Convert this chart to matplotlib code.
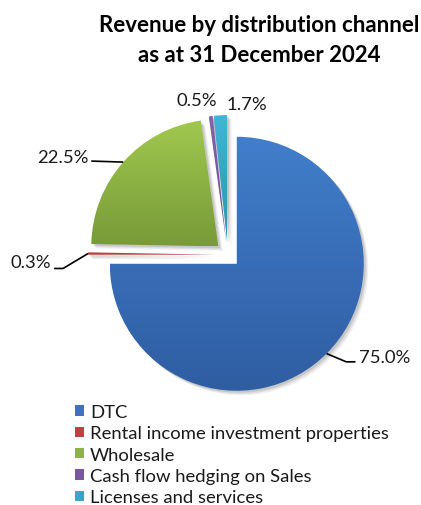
import numpy as np
import matplotlib
matplotlib.use("Agg")
import matplotlib.pyplot as plt
from matplotlib.patches import Patch
from matplotlib.colors import to_rgb

# Revenue shares by distribution channel (percent)
channels = ["DTC", "Rental income investment properties", "Wholesale",
            "Cash flow hedging on Sales", "Licenses and services"]
shares = [75.0, 0.3, 22.5, 0.5, 1.7]

# (top, bottom) gradient colours for each slice
top_colors = ["#417ECB", "#CC4A47", "#A0C84E", "#8663AE", "#40B6D6"]
bottom_colors = ["#2F5DA2", "#A83936", "#789A38", "#6A4C92", "#2F93B2"]
legend_colors = ["#3B73C0", "#C0423F", "#8DB346", "#7A57A3", "#38A6C8"]

title_lines = ["Revenue by distribution channel", "as at 31 December 2024"]
font = "Lato"

W, H, DPI = 421, 506, 100
fig = plt.figure(figsize=(W / DPI, H / DPI), dpi=DPI)

# pie axes: 1 data unit = 127 px, pie centre at (228, 256) px from top-left
R_PX = 127.0
cx, cy = 227.8, 255.8
half = 1.5
ax = fig.add_axes([(cx - half * R_PX) / W, (H - cy - half * R_PX) / H,
                   2 * half * R_PX / W, 2 * half * R_PX / H])

explode = [0.1] * len(shares)

# soft drop shadow under the slices
for dx, dy, a in [(0.035, -0.035, 0.06), (0.025, -0.025, 0.08),
                  (0.015, -0.015, 0.10)]:
    sw, _ = ax.pie(shares, startangle=90, counterclock=False, explode=explode,
                   colors=["#000000"] * len(shares), radius=1.0,
                   center=(dx, dy), frame=True,
                   wedgeprops=dict(linewidth=0, alpha=a))
    for w in sw:
        w.set_zorder(1)

wedges, _ = ax.pie(shares, startangle=90, counterclock=False, explode=explode,
                   colors=legend_colors, radius=1.0, frame=True,
                   wedgeprops=dict(linewidth=0, edgecolor="none"))

# vertical gradient fill clipped to each wedge
grad = np.linspace(0, 1, 256)[:, None]
for w, ctop, cbot in zip(wedges, top_colors, bottom_colors):
    w.set_zorder(2)
    w.set_facecolor("none")
    t = np.array(to_rgb(ctop))
    b = np.array(to_rgb(cbot))
    img = t[None, None, :] * (1 - grad[:, :, None]) + b[None, None, :] * grad[:, :, None]
    img = np.repeat(img, 2, axis=1)
    ext = w.get_patch_transform().transform(w.get_path().vertices)
    x0, x1 = ext[:, 0].min(), ext[:, 0].max()
    y0, y1 = ext[:, 1].min(), ext[:, 1].max()
    im = ax.imshow(img, extent=(x0, x1, y0, y1), origin="upper",
                   interpolation="bilinear", zorder=3, aspect="auto")
    im.set_clip_path(w)

ax.set_xlim(-half, half)
ax.set_ylim(-half, half)
ax.set_aspect("equal")
ax.axis("off")

# data labels: offset of the text from the slice's outer mid-point,
# and leader-line points (offsets in data units)
label_style = [
    dict(text=(0.255, -0.025), ha="left", elbow=[(0.155, -0.065), (0.228, -0.065)]),
    dict(text=(-0.295, -0.07), ha="right", elbow=[(-0.197, -0.118), (-0.268, -0.118)]),
    dict(text=(-0.27, 0.04), ha="right", elbow=[(-0.252, 0.008)]),
    dict(text=(-0.11, 0.13), ha="center", elbow=[]),
    dict(text=(0.21, 0.09), ha="center", elbow=[]),
]

for w, val, st in zip(wedges, shares, label_style):
    mid = np.deg2rad((w.theta1 + w.theta2) / 2)
    cxw, cyw = w.center
    px = cxw + w.r * np.cos(mid)
    py = cyw + w.r * np.sin(mid)
    if st["elbow"]:
        xs = [px] + [px + ex for ex, ey in st["elbow"]]
        ys = [py] + [py + ey for ex, ey in st["elbow"]]
        ax.plot(xs, ys, color="black", lw=1.2, zorder=4, clip_on=False,
                solid_capstyle="butt")
    ax.text(px + st["text"][0], py + st["text"][1], f"{val:.1f}%",
            ha=st["ha"], va="center", fontsize=13.3, family=font,
            color="#1a1a1a", zorder=5, clip_on=False)

for i, line in enumerate(title_lines):
    fig.text(259 / W, 1 - (25 + 30 * i) / H, line, ha="center", va="center",
             fontsize=16, fontweight="bold", family=font, color="black")

handles = [Patch(facecolor=c, edgecolor="none") for c in legend_colors]
fig.legend(handles, channels, loc="upper left",
           bbox_to_anchor=(75 / W, 1 - 405 / H), frameon=False,
           prop=dict(family=font, size=13.3), handlelength=0.5,
           handleheight=0.5, handletextpad=0.3, labelspacing=0.29,
           borderpad=0, borderaxespad=0, labelcolor="#1a1a1a")

fig.savefig("out.png", dpi=DPI, facecolor="white")
